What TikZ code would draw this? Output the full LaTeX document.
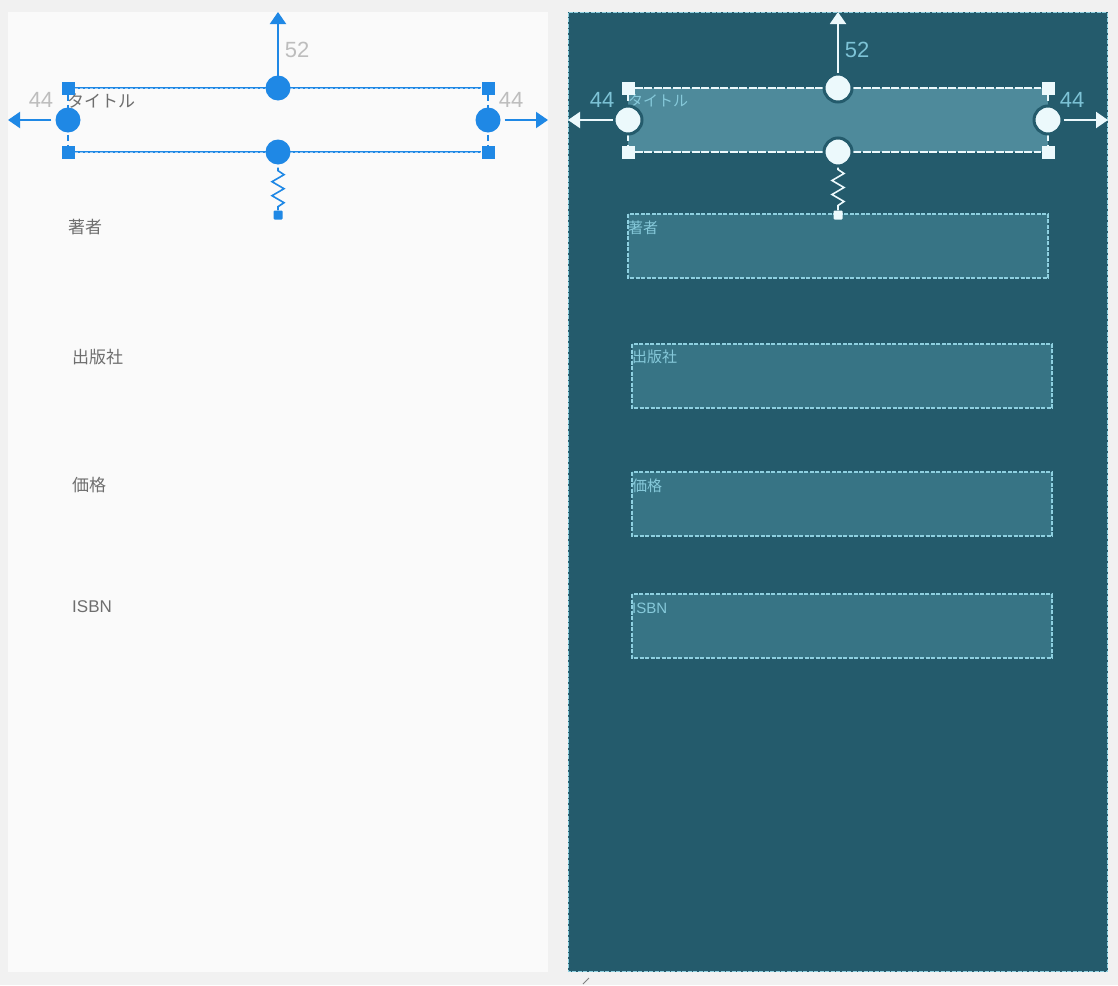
\documentclass[tikz,border=0pt]{standalone}
\usepackage{fontspec}
\setmainfont{Noto Sans CJK JP}
\newfontfamily\numfont{Liberation Sans}
\usetikzlibrary{arrows.meta}
\definecolor{bgc}{HTML}{F1F1F1}
\definecolor{panelL}{HTML}{FAFAFA}
\definecolor{blu}{HTML}{1F88E5}
\definecolor{numg}{HTML}{BDBDBD}
\definecolor{txtg}{HTML}{6E6E6E}
\definecolor{dark}{HTML}{245B6C}
\definecolor{tfill}{HTML}{4E8A9B}
\definecolor{bfill}{HTML}{377485}
\definecolor{bbord}{HTML}{8ED0E0}
\definecolor{rlab}{HTML}{86C9DA}
\definecolor{rnum}{HTML}{7DC3D6}
\definecolor{hwhite}{HTML}{ECF9FC}
\begin{document}
\begin{tikzpicture}[x=1pt,y=-1pt,
  lcirc/.style={circle,fill=blu,minimum size=25pt,inner sep=0pt},
  lsq/.style={rectangle,fill=blu,minimum size=13pt,inner sep=0pt},
  lsmall/.style={rectangle,fill=blu,minimum size=9pt,inner sep=0pt,rounded corners=1pt},
  rcirc/.style={circle,fill=hwhite,draw=dark,line width=3pt,minimum size=28pt,inner sep=0pt},
  rsq/.style={rectangle,fill=hwhite,minimum size=13pt,inner sep=0pt},
  rsmall/.style={rectangle,fill=hwhite,minimum size=9pt,inner sep=0pt,rounded corners=1pt},
  ltxt/.style={anchor=west,text=txtg,font=\fontsize{17}{20}\selectfont,inner sep=0pt},
  rtxt/.style={anchor=west,text=rlab,font=\fontsize{15}{18}\selectfont,inner sep=0pt},
  lnum/.style={text=numg,font=\numfont\fontsize{22}{24}\selectfont,inner sep=0pt},
  rnumst/.style={text=rnum,font=\numfont\fontsize{22}{24}\selectfont,inner sep=0pt},
  fieldbox/.style={fill=bfill,draw=bbord,line width=1.2pt,dash pattern=on 4pt off 1.5pt},
  tip/.style={-{Triangle[length=12pt,width=16pt]},line width=2pt}
]
\fill[bgc] (0,0) rectangle (1118,985);
\useasboundingbox (0,0) rectangle (1118,985);

% ---------- left panel ----------
\fill[panelL] (8,12) rectangle (548,972);

\node[ltxt] (lt) at (67,101) {タイトル};
\node[ltxt] (la) at (68,227) {著者};
\node[ltxt] (lp) at (72,357) {出版社};
\node[ltxt] (lpr) at (72,485) {価格};
\node[ltxt,font=\numfont\fontsize{17}{20}\selectfont] (li) at (72,607) {ISBN};

\node[lsq] (ltl) at (68,88) {};
\node[lsq] (ltr) at (488,88) {};
\node[lsq] (lbl) at (68,152) {};
\node[lsq] (lbr) at (488,152) {};
\draw[blu,line width=2.5pt] (ltl) -- (ltr);
\draw[blu,line width=2.5pt] (lbl) -- (lbr);
\draw[blu!45,line width=0.6pt,dash pattern=on 3pt off 2pt] (ltl) -- (ltr);
\draw[blu!45,line width=0.6pt,dash pattern=on 3pt off 2pt] (lbl) -- (lbr);
\draw[blu,line width=2.5pt,dash pattern=on 6pt off 4pt] (ltl) -- (lbl);
\draw[blu,line width=2.5pt,dash pattern=on 6pt off 4pt] (ltr) -- (lbr);
\node[lcirc] (lct) at (278,88) {};
\node[lcirc] (lcb) at (278,152) {};
\node[lcirc] (lcl) at (68,120) {};
\node[lcirc] (lcr) at (488,120) {};

\coordinate (lup) at (278,12);
\coordinate (lleft) at (8,120);
\coordinate (lright) at (548,120);
\draw[blu,tip] ([yshift=-4pt]lct.north) -- (lup);
\draw[blu,tip] ([xshift=-4pt]lcl.west) -- (lleft);
\draw[blu,tip] ([xshift=4pt]lcr.east) -- (lright);
\node[lnum] (ln52) at (297,50) {52};
\node[lnum] (ln44l) at (41,100) {44};
\node[lnum] (ln44r) at (511,100) {44};

\node[lsmall] (lsp) at (278,215) {};
\draw[blu,line width=1.6pt,line join=miter] ([yshift=-3pt]lcb.south) -- ++(0,3) -- ++(6,4) -- ++(-12,7) -- ++(12,7) -- ++(-12,7) -- ++(12,7) -- ++(-6,4) -- (lsp.north);

% ---------- right panel ----------
\fill[dark] (568,12) rectangle (1108,972);
\draw[bbord,line width=1pt,dash pattern=on 4pt off 1.5pt] (568.5,12.5) rectangle (1107.5,971.5);

\fill[tfill] (628,88) rectangle (1048,152);
\draw[fieldbox] (628,214) rectangle (1048,278);
\draw[fieldbox] (632,344) rectangle (1052,408);
\draw[fieldbox] (632,472) rectangle (1052,536);
\draw[fieldbox] (632,594) rectangle (1052,658);

\node[rtxt] (rt) at (628,101) {タイトル};
\node[rtxt] (ra) at (628,228) {著者};
\node[rtxt] (rp) at (632,357) {出版社};
\node[rtxt] (rpr) at (632,486) {価格};
\node[rtxt,font=\numfont\fontsize{15}{18}\selectfont] (ri) at (632,608) {ISBN};

\node[rsq] (rtl) at (628,88) {};
\node[rsq] (rtr) at (1048,88) {};
\node[rsq] (rbl) at (628,152) {};
\node[rsq] (rbr) at (1048,152) {};
\draw[hwhite,line width=2pt,dash pattern=on 8pt off 1.5pt] (rtl) -- (rtr);
\draw[hwhite,line width=2pt,dash pattern=on 8pt off 1.5pt] (rbl) -- (rbr);
\draw[hwhite,line width=2pt,dash pattern=on 6pt off 4pt] (rtl) -- (rbl);
\draw[hwhite,line width=2pt,dash pattern=on 6pt off 4pt] (rtr) -- (rbr);
\node[rcirc] (rct) at (838,88) {};
\node[rcirc] (rcb) at (838,152) {};
\node[rcirc] (rcl) at (628,120) {};
\node[rcirc] (rcr) at (1048,120) {};

\coordinate (rup) at (838,12);
\coordinate (rleft) at (568,120);
\coordinate (rright) at (1108,120);
\draw[hwhite,tip] (rct.north) -- (rup);
\draw[hwhite,tip] (rcl.west) -- (rleft);
\draw[hwhite,tip] (rcr.east) -- (rright);
\node[rnumst] (rn52) at (857,50) {52};
\node[rnumst] (rn44l) at (602,100) {44};
\node[rnumst] (rn44r) at (1072,100) {44};

\node[rsmall] (rsp) at (838,215) {};
\draw[hwhite,line width=1.6pt,line join=miter] (rcb.south) -- ++(0,2) -- ++(6,4) -- ++(-12,7) -- ++(12,7) -- ++(-12,7) -- ++(12,7) -- ++(-6,4) -- (rsp.north);

% resize tick
\coordinate (rk1) at (583,984);
\coordinate (rk2) at (589,978);
\draw[gray,line width=0.8pt] (rk1) -- (rk2);
\end{tikzpicture}
\end{document}
